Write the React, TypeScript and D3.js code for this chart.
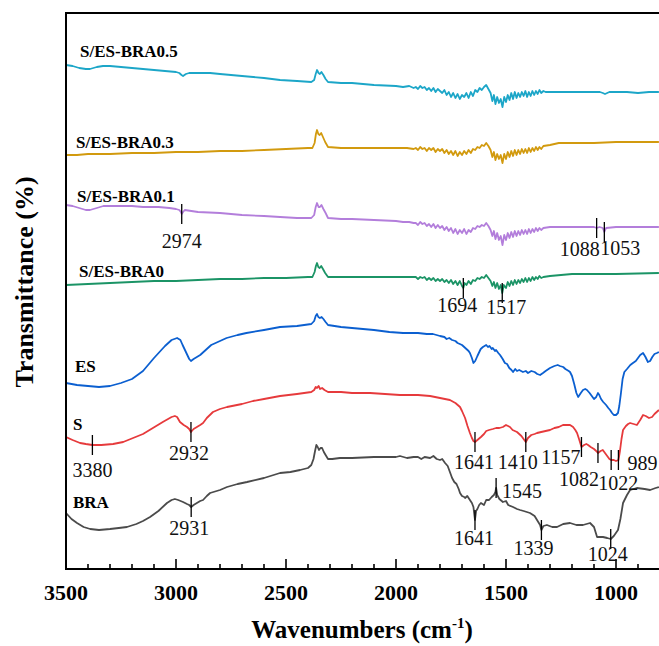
import React from "react";
import * as d3 from "d3";

type Pt = [number, number];

const seriesNames = ["S/ES-BRA0.5", "S/ES-BRA0.3", "S/ES-BRA0.1", "S/ES-BRA0", "ES", "S", "BRA"];
const seriesColors = ["#1ca6c8", "#d29a0e", "#b37edb", "#1b9466", "#0b5fd0", "#e63a3c", "#4b4b4b"];

const bra05: Pt[] = [
  [3500,504],[3470,503],[3440,501],[3410,500],[3391,500],[3360,502],[3332,503],[3300,503],[3250,502],[3200,501],[3150,500],[3100,499],[3050,498],[3000,497],[2985,496],[2975,494],[2968,493],[2955,495],[2940,496],[2900,496],[2845,496],[2800,495],[2700,493],[2600,491],[2527,489],[2450,488],[2385,487],[2372,489],[2365,495],[2359,499],[2352,496],[2346,495],[2339,497],[2330,494],[2320,490],[2309,487],[2250,486],[2200,486],[2100,484],[2000,483],[1968,482],[1940,483],[1920,481],
  [1910,482],[1900,480],[1890,483],[1880,481],[1870,482],[1860,479],[1850,481],[1840,478],[1830,481],[1820,477],[1810,480],[1800,478],[1790,476],[1780,479],[1770,474],[1760,477],[1750,472],[1740,476],[1730,471],[1720,475],[1710,470],[1700,474],[1690,472],[1680,476],[1670,471],[1660,477],[1650,473],[1640,479],[1630,477],[1620,481],[1610,479],[1600,482],[1590,484],[1580,480],[1570,476],[1562,468],[1555,474],[1548,465],[1540,472],[1532,466],[1524,470],[1516,462],[1508,472],[1500,467],[1492,474],[1484,469],[1476,476],[1468,470],[1460,477],[1452,471],[1444,476],[1436,472],[1428,477],[1420,473],[1412,478],[1404,472],[1396,477],[1388,473],[1380,478],[1372,474],[1364,478],[1356,475],[1348,479],[1340,476],[1330,478],[1320,477],
  [1300,477],[1250,477],[1200,477],[1150,477],[1100,477],[1073,477],[1060,476],[1050,475],[1040,476],[1030,477],[950,477],[900,476],[850,477],[805,477]
];

const bra03: Pt[] = [
  [3500,414],[3450,414],[3400,415],[3300,415],[3200,416],[3100,416],[3000,417],[2900,417],[2800,418],[2700,418],[2600,419],[2500,420],[2400,421],[2380,421],[2370,426],[2364,435],[2359,439],[2353,435],[2347,434],[2340,436],[2332,432],[2322,427],[2309,422],[2250,421],[2200,421],[2100,421],[2000,421],[1950,421],[1920,420],
  [1910,421],[1900,419],[1890,422],[1880,420],[1870,421],[1860,418],[1850,421],[1840,419],[1830,421],[1820,417],[1810,420],[1800,418],[1790,420],[1780,416],[1770,419],[1760,415],[1750,418],[1740,414],[1730,418],[1720,413],[1710,417],[1700,414],[1690,418],[1680,415],[1670,419],[1660,416],[1650,420],[1640,419],[1630,422],[1620,421],[1610,424],[1600,423],[1590,426],[1580,423],[1570,419],[1562,412],[1555,417],[1548,409],[1540,415],[1532,410],[1524,414],[1516,406],[1508,415],[1500,410],[1492,417],[1484,412],[1476,418],[1468,413],[1460,419],[1452,414],[1444,419],[1436,415],[1428,420],[1420,416],[1412,420],[1404,416],[1396,421],[1388,417],[1380,421],[1372,418],[1364,422],[1356,419],[1348,422],[1340,420],[1330,423],
  [1300,424],[1260,426],[1200,426],[1100,426],[1000,427],[900,427],[805,427]
];

const bra01: Pt[] = [
  [3500,364],[3470,363],[3440,361],[3410,359],[3391,359],[3360,361],[3330,363],[3300,363],[3250,363],[3200,363],[3150,362],[3080,362],[3030,361],[3000,360],[2985,359],[2978,357],[2974,355],[2968,357],[2960,359],[2930,358],[2900,357],[2800,356],[2700,354],[2600,353],[2527,352],[2450,351],[2385,351],[2372,354],[2365,362],[2359,366],[2352,362],[2346,362],[2339,364],[2330,360],[2320,356],[2309,351],[2250,350],[2200,350],[2100,349],[2000,348],[1968,347],[1940,347],[1920,346],
  [1910,346],[1900,344],[1890,347],[1880,345],[1870,346],[1860,343],[1850,345],[1840,342],[1830,345],[1820,341],[1810,344],[1800,341],[1790,343],[1780,339],[1770,342],[1760,338],[1750,341],[1740,336],[1730,340],[1720,335],[1710,339],[1700,336],[1690,340],[1680,335],[1670,339],[1660,337],[1650,341],[1640,340],[1630,343],[1620,342],[1610,344],[1600,343],[1590,346],[1580,343],[1570,339],[1562,333],[1555,338],[1548,330],[1540,336],[1532,329],[1524,333],[1516,324],[1508,334],[1500,329],[1492,336],[1484,331],[1476,337],[1468,332],[1460,338],[1452,333],[1444,338],[1436,334],[1428,339],[1420,335],[1412,339],[1404,335],[1396,340],[1388,336],[1380,340],[1372,337],[1364,341],[1356,338],[1348,341],[1340,339],[1330,341],
  [1300,342],[1200,342],[1100,342],[1088,341],[1075,342],[1060,341],[1053,337],[1045,341],[1000,342],[900,342],[805,342]
];

const bra0: Pt[] = [
  [3500,284],[3400,285],[3300,286],[3200,287],[3100,288],[3000,288],[2900,289],[2800,290],[2700,290],[2600,291],[2500,291],[2400,292],[2380,292],[2370,297],[2364,303],[2359,306],[2353,302],[2347,301],[2340,303],[2332,300],[2322,296],[2309,292],[2200,292],[2100,292],[2000,292],[1950,292],[1920,292],
  [1910,292],[1900,290],[1890,292],[1880,291],[1870,292],[1860,289],[1850,291],[1840,289],[1830,291],[1820,288],[1810,290],[1800,288],[1790,290],[1780,287],[1770,289],[1760,286],[1750,289],[1740,285],[1730,288],[1720,284],[1710,288],[1700,283],[1694,281],[1688,286],[1680,284],[1670,288],[1660,285],[1650,289],[1640,288],[1630,291],[1620,290],[1610,292],[1600,291],[1590,294],[1580,291],[1570,288],[1562,283],[1555,287],[1548,281],[1540,286],[1532,280],[1524,284],[1517,276],[1510,284],[1500,281],[1492,287],[1484,283],[1476,288],[1468,284],[1460,289],[1452,285],[1444,289],[1436,286],[1428,290],[1420,287],[1412,291],[1404,287],[1396,291],[1388,288],[1380,292],[1372,289],[1364,292],[1356,290],[1348,293],[1340,291],[1330,292],
  [1300,293],[1200,295],[1000,295],[805,296]
];

const es: Pt[] = [
  [3500,186],[3450,184],[3400,183],[3350,182],[3300,183],[3250,186],[3200,190],[3150,198],[3100,211],[3050,223],[3020,229],[2995,231],[2980,229],[2970,224],[2955,217],[2940,210],[2932,208],[2920,210],[2905,212],[2890,214],[2880,216],[2860,220],[2840,224],[2800,228],[2770,231],[2720,234],[2680,236],[2600,239],[2527,242],[2450,243],[2385,245],[2372,248],[2365,253],[2359,255],[2353,252],[2346,251],[2338,252],[2330,250],[2320,247],[2309,244],[2250,242],[2200,241],[2100,239],[2030,237],[1968,236],[1900,236],[1860,235],[1832,235],[1800,233],[1780,232],[1770,230],[1758,231],[1745,229],[1730,228],[1720,226],[1710,225],[1700,224],[1690,222],[1680,220],[1670,218],[1664,216],[1655,211],[1648,206],[1640,208],[1630,213],[1615,220],[1605,222],[1590,224],[1582,222],[1575,223],[1565,220],[1560,221],[1550,218],[1545,219],[1535,216],[1527,214],[1515,210],[1505,206],[1495,205],[1485,201],[1475,199],[1468,197],[1458,200],[1450,198],[1440,199],[1423,197],[1410,198],[1400,196],[1385,198],[1370,197],[1358,195],[1345,194],[1332,196],[1320,198],[1300,201],[1280,203],[1265,204],[1255,203],[1240,202],[1230,200],[1215,198],[1209,197],[1200,193],[1190,185],[1180,176],[1172,172],[1160,176],[1150,179],[1140,180],[1132,179],[1120,176],[1110,173],[1100,170],[1090,172],[1082,176],[1076,174],[1068,170],[1058,167],[1045,164],[1035,161],[1027,159],[1018,156],[1010,154],[1000,154],[991,156],[985,163],[978,175],[970,190],[962,197],[950,200],[935,204],[923,206],[910,208],[900,211],[890,214],[877,216],[866,212],[855,207],[845,208],[835,212],[825,215],[814,216],[805,217]
];

const s: Pt[] = [
  [3500,132],[3470,129],[3436,126],[3410,125],[3380,124],[3340,124],[3286,125],[3240,127],[3195,131],[3150,135],[3105,141],[3060,147],[3020,152],[3005,153],[2995,152],[2982,147],[2965,144],[2950,142],[2940,140],[2932,137],[2920,140],[2905,142],[2890,144],[2877,146],[2860,151],[2832,157],[2800,160],[2768,162],[2700,165],[2650,168],[2600,170],[2527,173],[2450,175],[2385,177],[2372,179],[2365,182],[2359,181],[2352,183],[2345,180],[2336,181],[2325,179],[2309,177],[2250,177],[2200,176],[2118,176],[2050,175],[1982,174],[1900,174],[1845,173],[1800,171],[1755,169],[1730,166],[1709,162],[1700,158],[1686,151],[1675,143],[1664,136],[1655,131],[1648,128],[1641,127],[1630,129],[1614,132],[1600,135],[1590,138],[1577,139],[1560,140],[1545,141],[1530,141],[1514,142],[1500,144],[1482,142],[1470,139],[1460,138],[1450,137],[1430,133],[1420,130],[1410,127],[1400,131],[1385,134],[1370,135],[1359,136],[1340,137],[1320,138],[1300,139],[1280,141],[1260,142],[1241,144],[1225,144],[1209,144],[1195,142],[1185,139],[1177,136],[1168,130],[1157,122],[1145,124],[1135,125],[1127,124],[1115,122],[1100,120],[1090,118],[1082,116],[1070,118],[1060,119],[1050,116],[1040,113],[1030,110],[1022,109],[1010,109],[1000,108],[989,109],[982,118],[975,130],[968,139],[955,143],[945,145],[936,146],[920,145],[905,144],[890,149],[877,154],[865,153],[850,151],[836,152],[825,155],[815,157],[805,159]
];

const bra: Pt[] = [
  [3500,56],[3475,50],[3450,46],[3420,42],[3390,40],[3350,39],[3300,40],[3260,41],[3223,42],[3180,45],[3150,48],[3118,52],[3080,58],[3041,66],[3020,69],[3005,70],[2990,69],[2968,67],[2950,65],[2940,64],[2931,62],[2920,64],[2905,66],[2890,68],[2877,69],[2860,73],[2845,76],[2800,79],[2768,82],[2720,85],[2677,87],[2600,91],[2527,96],[2480,97],[2436,99],[2400,101],[2385,104],[2375,110],[2368,118],[2362,124],[2356,122],[2350,119],[2343,121],[2336,121],[2328,117],[2320,114],[2309,110],[2290,110],[2255,111],[2200,111],[2100,112],[2000,112],[1982,113],[1950,111],[1920,112],[1900,112],[1885,110],[1870,112],[1845,111],[1830,113],[1815,110],[1800,109],
  [1790,110],[1777,106],[1765,103],[1755,97],[1745,91],[1735,87],[1725,85],[1715,80],[1709,76],[1700,73],[1690,72],[1686,71],[1676,73],[1664,69],[1655,66],[1648,62],[1641,49],[1636,58],[1630,60],[1622,64],[1614,66],[1600,64],[1590,69],[1577,69],[1565,72],[1555,74],[1548,77],[1545,81],[1540,74],[1530,70],[1514,67],[1500,68],[1490,64],[1468,62],[1450,60],[1436,59],[1420,58],[1391,56],[1370,53],[1359,49],[1345,44],[1339,39],[1330,43],[1314,44],[1290,42],[1268,42],[1240,45],[1209,46],[1180,44],[1150,44],[1118,46],[1100,42],[1086,32],[1059,32],[1040,31],[1024,30],[1010,33],[991,39],[980,50],[968,66],[950,74],[936,79],[905,81],[870,80],[845,79],[820,81],[805,82]
];

const seriesData: Pt[][] = [bra05, bra03, bra01, bra0, es, s, bra];

// peak annotations: series index, wavenumber, label text
const peakSeries = [2, 2, 2, 3, 3, 5, 5, 5, 5, 5, 5, 5, 5, 6, 6, 6, 6, 6];
const peakWn = [2974, 1088, 1053, 1694, 1517, 3380, 2932, 1641, 1410, 1157, 1082, 1022, 989, 2931, 1641, 1545, 1339, 1024];
const peakText = peakWn.map(String);
// label placement relative to tick: [dx, dy, anchor]
const peakPlace: [number, number, string][] = [
  [0, 34, "middle"], [3, 28, "end"], [-4, 23, "start"], [-6, 24, "middle"], [4, 21, "middle"],
  [0, 32, "middle"], [-2, 28, "middle"], [-1, 27, "middle"], [-8, 27, "middle"], [-1, 17, "end"],
  [1, 33, "end"], [-13, 30, "start"], [9, 10, "start"],
  [-2, 28, "middle"], [-1, 25, "middle"], [6, 10, "start"], [-8, 25, "middle"], [-3, 22, "middle"]
];
// series label offsets: [x, dy from curve at left edge]
const seriesLabelPlace: [number, number][] = [[80, -8], [76, -7], [77, -3], [79, -8], [75, -11], [73, -7], [73, -5]];

const xTickValues = d3.range(3500, 799, -100);

const W = 659, H = 646;
const plotLeft = 66, plotTop = 13, plotBottom = 569, plotRight = 660;

function valueAt(data: Pt[], wn: number): number {
  for (let i = 0; i < data.length - 1; i++) {
    const [a, va] = data[i];
    const [b, vb] = data[i + 1];
    if (wn <= a && wn >= b) {
      const t = a === b ? 0 : (a - wn) / (a - b);
      return va + t * (vb - va);
    }
  }
  return data[data.length - 1][1];
}

export default function App() {
  const x = d3.scaleLinear().domain([3500, 800]).range([plotLeft, plotRight]);
  const y = d3.scaleLinear().domain([0, 556]).range([plotBottom, plotTop]);
  const line = d3.line<Pt>().x((d) => x(d[0])).y((d) => y(d[1]));
  const serif = "'Liberation Serif', 'Times New Roman', serif";

  return (
    <div style={{ position: "absolute", left: 0, top: 0, width: W, height: H, background: "#fff" }}>
      <svg width={W} height={H} style={{ display: "block" }}>
        <defs>
          <clipPath id="plotClip">
            <rect x={plotLeft} y={plotTop} width={plotRight - plotLeft} height={plotBottom - plotTop} />
          </clipPath>
        </defs>
        <g clipPath="url(#plotClip)">
          {seriesData.map((d, i) => (
            <path key={i} d={line(d) || ""} fill="none" stroke={seriesColors[i]} strokeWidth={1.8} strokeLinejoin="round" />
          ))}
        </g>
        {/* frame */}
        <line x1={plotLeft} x2={plotLeft} y1={plotTop - 1} y2={plotBottom + 1} stroke="#000" strokeWidth={2} />
        <line x1={plotLeft - 1} x2={W} y1={plotTop} y2={plotTop} stroke="#000" strokeWidth={2} />
        <line x1={plotLeft - 1} x2={W} y1={plotBottom} y2={plotBottom} stroke="#000" strokeWidth={2} />
        {/* x ticks */}
        {xTickValues.map((t) => {
          const major = t % 500 === 0;
          return (
            <line key={t} x1={x(t)} x2={x(t)} y1={plotBottom} y2={plotBottom - (major ? 10 : 5)} stroke="#000" strokeWidth={1.6} />
          );
        })}
        {xTickValues.filter((t) => t % 500 === 0).map((t) => (
          <text key={"l" + t} x={x(t)} y={600} textAnchor="middle" fontFamily={serif} fontWeight="bold" fontSize={22}>
            {t}
          </text>
        ))}
        {/* axis titles */}
        <text x={362} y={638} textAnchor="middle" fontFamily={serif} fontWeight="bold" fontSize={25}>
          Wavenumbers (cm<tspan dy={-10} fontSize={15}>-1</tspan><tspan dy={10}>)</tspan>
        </text>
        <text transform="translate(33,282) rotate(-90)" textAnchor="middle" fontFamily={serif} fontWeight="bold" fontSize={26}>
          Transmittance (%)
        </text>
        {/* series labels */}
        {seriesNames.map((n, i) => (
          <text key={n} x={seriesLabelPlace[i][0]} y={y(seriesData[i][0][1]) + seriesLabelPlace[i][1]} fontFamily={serif} fontWeight="bold" fontSize={17}>
            {n}
          </text>
        ))}
        {/* peak annotations */}
        {peakWn.map((wn, i) => {
          const cy = y(valueAt(seriesData[peakSeries[i]], wn));
          const cx = x(wn);
          const [dx, dy, anchor] = peakPlace[i];
          return (
            <g key={"p" + i}>
              <line x1={cx} x2={cx} y1={cy - 10} y2={cy + 10} stroke="#000" strokeWidth={1.3} />
              <text x={cx + dx} y={cy + dy} textAnchor={anchor as any} fontFamily={serif} fontSize={20} fill="#111">
                {peakText[i]}
              </text>
            </g>
          );
        })}
      </svg>
    </div>
  );
}
